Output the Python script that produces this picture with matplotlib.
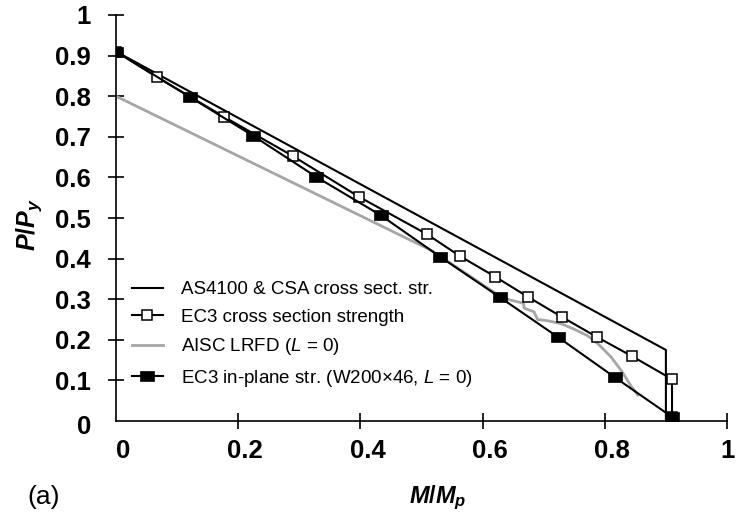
import matplotlib
matplotlib.use("Agg")
import matplotlib.pyplot as plt
from matplotlib.transforms import ScaledTranslation

plt.rcParams.update({
    "font.family": "Liberation Sans",
    "mathtext.fontset": "custom",
    "mathtext.it": "Liberation Sans:bold:italic",
    "mathtext.rm": "Liberation Sans:bold",
    "mathtext.bf": "Liberation Sans:bold",
    "mathtext.sf": "Liberation Sans:italic",
})

# AS4100 & CSA cross-section strength
as_m = [0.0, 0.900, 0.900]
as_p = [0.910, 0.175, 0.0]

# EC3 cross-section strength
ec3cs_m = [0.0, 0.067, 0.177, 0.289, 0.398, 0.509, 0.563, 0.621, 0.675,
           0.730, 0.787, 0.844, 0.910, 0.910]
ec3cs_p = [0.910, 0.847, 0.749, 0.653, 0.552, 0.460, 0.406, 0.355, 0.305,
           0.256, 0.207, 0.160, 0.103, 0.010]

# AISC LRFD (L = 0)
aisc_m = [0.0, 0.515, 0.628, 0.640, 0.667, 0.668, 0.684, 0.690, 0.706,
          0.728, 0.750, 0.772, 0.789, 0.810, 0.828, 0.843, 0.854]
aisc_p = [0.800, 0.421, 0.308, 0.300, 0.290, 0.278, 0.269, 0.250, 0.247,
          0.240, 0.226, 0.210, 0.190, 0.158, 0.122, 0.086, 0.064]

# EC3 in-plane strength (W200x46, L = 0)
ec3ip_m = [0.0, 0.121, 0.225, 0.328, 0.433, 0.531, 0.628, 0.723, 0.816, 0.910]
ec3ip_p = [0.910, 0.798, 0.702, 0.601, 0.507, 0.404, 0.305, 0.207, 0.108, 0.010]

x_ticks = [0, 0.2, 0.4, 0.6, 0.8, 1.0]
x_labels = ["0", "0.2", "0.4", "0.6", "0.8", "1"]
y_ticks = [0, 0.1, 0.2, 0.3, 0.4, 0.5, 0.6, 0.7, 0.8, 0.9, 1.0]
y_labels = ["0", "0.1", "0.2", "0.3", "0.4", "0.5", "0.6", "0.7", "0.8", "0.9", "1"]

labels = ["AS4100 & CSA cross sect. str.",
          "EC3 cross section strength",
          r"AISC LRFD ($\mathsf{L}$ = 0)",
          r"EC3 in-plane str. (W200×46, $\mathsf{L}$ = 0)"]

W, H = 752, 514
fig = plt.figure(figsize=(W / 100, H / 100), dpi=100)
ax = fig.add_axes([116 / W, 1 - 421 / H, 611 / W, 406 / H])

# wide filled rectangle marker
rect = [(-1.35, -1), (1.35, -1), (1.35, 1), (-1.35, 1), (-1.35, -1)]

l3, = ax.plot(aisc_m, aisc_p, color="#a6a6a6", lw=2.0, zorder=2)
l1, = ax.plot(as_m, as_p, color="black", lw=1.5, zorder=3)
l2, = ax.plot(ec3cs_m, ec3cs_p, color="black", lw=1.5, marker="s", ms=7.5,
              mfc="white", mec="black", mew=1.1, zorder=4)
l4, = ax.plot(ec3ip_m, ec3ip_p, color="black", lw=1.5, marker=rect, ms=10.5,
              mfc="black", mec="black", mew=0.5, zorder=5)

ax.set_xlim(0, 1)
ax.set_ylim(0, 1)
ax.set_xticks(x_ticks)
ax.set_xticklabels(x_labels)
ax.set_yticks(y_ticks)
ax.set_yticklabels(y_labels)

for s in ("top", "right"):
    ax.spines[s].set_visible(False)
for s in ("left", "bottom"):
    ax.spines[s].set_linewidth(1.2)

ax.tick_params(axis="both", direction="inout", length=12, width=1.2,
               labelsize=18.5, colors="black")
ax.tick_params(axis="y", pad=12)
ax.tick_params(axis="x", pad=7)
for lab in ax.get_xticklabels() + ax.get_yticklabels():
    lab.set_fontweight("bold")

ax.xaxis.get_major_ticks()[0].tick1line.set_visible(False)
ax.yaxis.get_major_ticks()[0].tick1line.set_visible(False)

# nudge the x tick labels
x_shift = [7, 7, 7, 7, 7, 1]
for lab, dx in zip(ax.get_xticklabels(), x_shift):
    lab.set_transform(lab.get_transform() +
                      ScaledTranslation(dx / 100, 0, fig.dpi_scale_trans))
ylab0 = ax.get_yticklabels()[0]
ylab0.set_transform(ylab0.get_transform() +
                    ScaledTranslation(0, -4 / 100, fig.dpi_scale_trans))

ax.set_xlabel(r"$M/M_p$", fontsize=17)
ax.xaxis.set_label_coords(0.527, -0.155)
ax.set_ylabel(r"$P/P_y$", fontsize=18)
ax.yaxis.set_label_coords(-0.118, 0.483)

ax.legend([l1, l2, l3, l4], labels, loc="center left",
          bbox_to_anchor=(0.026, 0.212), frameon=False, fontsize=13.5,
          handlelength=1.65, handletextpad=0.95, labelspacing=0.55,
          borderpad=0, borderaxespad=0)

fig.text(27 / W, 1 - 497 / H, "(a)", fontsize=19, ha="left", va="center")

fig.savefig("out.png", dpi=100)
